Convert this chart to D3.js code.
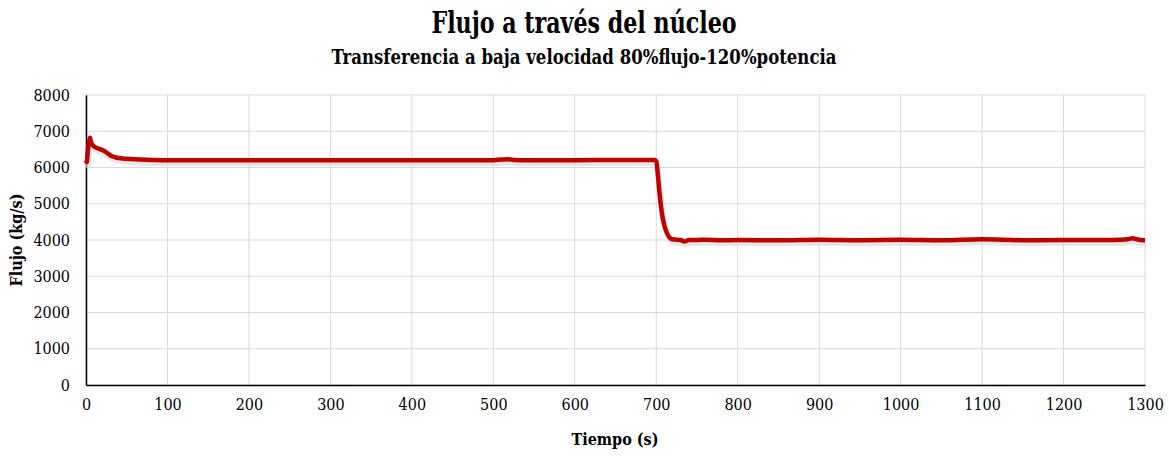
<!DOCTYPE html>
<html><head><meta charset="utf-8">
<script src="https://cdn.jsdelivr.net/npm/d3@7"></script>
<style>body{margin:0;background:#fff}svg{display:block}</style>
</head><body>
<svg id="c" width="1169" height="458"></svg>
<script>
const title = "Flujo a través del núcleo";
const subtitle = "Transferencia a baja velocidad 80%flujo-120%potencia";
const xLabel = "Tiempo (s)";
const yLabel = "Flujo (kg/s)";
const xTicks = [0,100,200,300,400,500,600,700,800,900,1000,1100,1200,1300];
const yTicks = [0,1000,2000,3000,4000,5000,6000,7000,8000];
const timeS = [0,1,2,4,5,6,8,10,14,18,22,26,30,35,40,50,60,80,100,200,300,400,500,510,518,525,540,600,650,698,700,702,704,706,708,710,713,716,720,725,730,735,740,750,760,780,800,850,900,950,1000,1050,1100,1150,1200,1250,1270,1280,1285,1290,1295,1300];
const flowKgS = [6200,6150,6400,6750,6820,6700,6620,6580,6530,6500,6460,6400,6330,6290,6260,6240,6225,6210,6200,6200,6200,6200,6200,6220,6230,6210,6200,6200,6210,6210,6180,5800,5300,4900,4600,4400,4200,4080,4020,4010,4000,3960,4000,4000,4010,3990,4000,3990,4010,3995,4005,3990,4020,3995,4000,4000,4010,4030,4050,4020,4000,3990];

const svg = d3.select("#c");
const m = {l:86, r:1145, t:95, b:385};
const x = d3.scaleLinear().domain([0,1300]).range([m.l,m.r]);
const y = d3.scaleLinear().domain([0,8000]).range([m.b,m.t]);
const font = "'DejaVu Serif Condensed','DejaVu Serif',serif";

// grid
svg.append("g").selectAll("line.h").data(yTicks).join("line")
  .attr("x1",m.l).attr("x2",m.r).attr("y1",d=>y(d)).attr("y2",d=>y(d))
  .attr("stroke","#d9d9d9").attr("stroke-width",1);
svg.append("g").selectAll("line.v").data(xTicks).join("line")
  .attr("x1",d=>x(d)).attr("x2",d=>x(d)).attr("y1",m.t).attr("y2",m.b)
  .attr("stroke","#d9d9d9").attr("stroke-width",1);

// axes
const xa = svg.append("g").attr("transform",`translate(0,${m.b})`)
  .call(d3.axisBottom(x).tickValues(xTicks).tickSize(0).tickPadding(14).tickFormat(d3.format("d")));
const ya = svg.append("g").attr("transform",`translate(${m.l},0)`)
  .call(d3.axisLeft(y).tickValues(yTicks).tickSize(0).tickPadding(16).tickFormat(d3.format("d")));
[xa,ya].forEach(a=>{
  a.select(".domain").attr("stroke","#000").attr("stroke-width",1.5);
  a.selectAll("text").attr("font-family",font).attr("font-size",16).attr("fill","#000");
});

// line
const line = d3.line().x((d,i)=>x(timeS[i])).y(d=>y(d)).curve(d3.curveMonotoneX);
svg.append("path").datum(flowKgS).attr("d",line).attr("fill","none")
  .attr("stroke","#e0d6d6").attr("stroke-width",6).attr("transform","translate(1,3)").attr("opacity",0.6);
svg.append("path").datum(flowKgS).attr("d",line).attr("fill","none")
  .attr("stroke","#c00000").attr("stroke-width",4.5).attr("stroke-linejoin","round");

// titles
svg.append("text").attr("transform","translate(584,33) scale(0.85,1)").attr("text-anchor","middle")
  .attr("font-family",font).attr("font-weight","bold").attr("font-size",29).text(title);
svg.append("text").attr("transform","translate(584,64) scale(0.92,1)").attr("text-anchor","middle")
  .attr("font-family",font).attr("font-weight","bold").attr("font-size",20).text(subtitle);
svg.append("text").attr("x",615).attr("y",445).attr("text-anchor","middle")
  .attr("font-family",font).attr("font-weight","bold").attr("font-size",16).text(xLabel);
svg.append("text").attr("transform","translate(22,240) rotate(-90)").attr("text-anchor","middle")
  .attr("font-family",font).attr("font-weight","bold").attr("font-size",16).text(yLabel);
</script>
</body></html>
